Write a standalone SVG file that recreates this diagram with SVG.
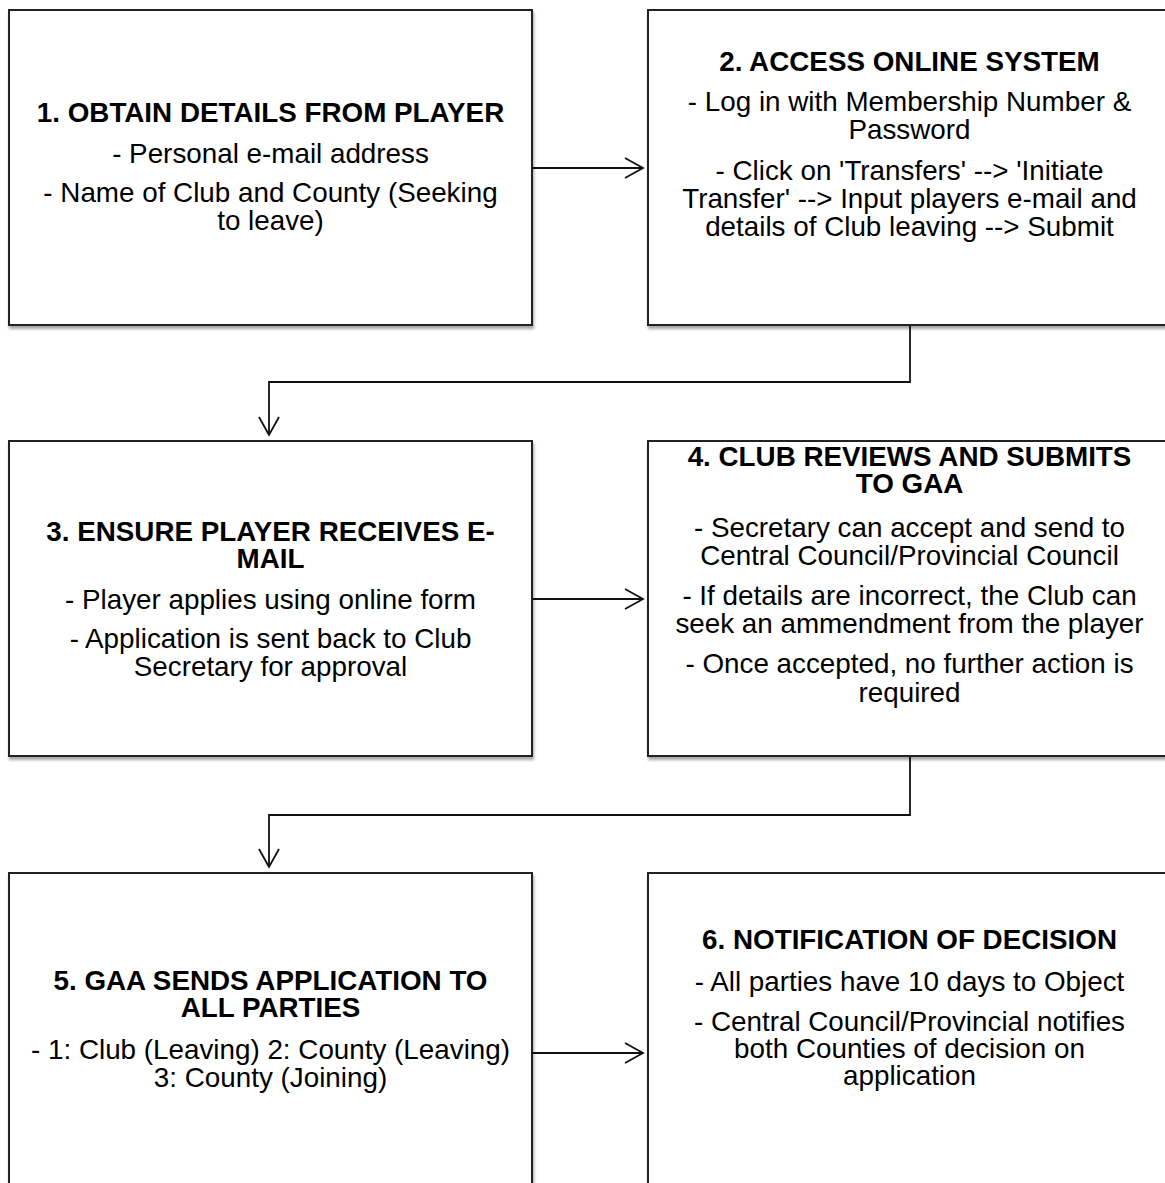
<svg xmlns="http://www.w3.org/2000/svg" width="1165" height="1183" viewBox="0 0 1165 1183">
<style>
.box{fill:#fff;stroke:#222;stroke-width:2;filter:url(#sh)}
.t{font-family:"Liberation Sans",Arial,sans-serif;font-size:27.8px;fill:#000;text-anchor:middle}
.b{font-weight:bold}
.c{fill:none;stroke:#111;stroke-width:1.8}
</style>
<defs>
<filter id="sh" x="-5%" y="-5%" width="110%" height="115%">
<feDropShadow dx="1" dy="3" stdDeviation="1.6" flood-color="#000" flood-opacity="0.35"/>
</filter>
<marker id="arr" markerUnits="userSpaceOnUse" markerWidth="26" markerHeight="26" viewBox="-21 -13 26 26" refX="0" refY="0" orient="auto">
<path d="M-18,-10 L0,0 L-18,10" fill="none" stroke="#111" stroke-width="1.8"/>
</marker>
</defs>
<rect width="1165" height="1183" fill="#fff"/>
<g id="connectors">
<path class="c" d="M532,168 H643" marker-end="url(#arr)"/>
<path class="c" d="M910,325 V382 H269 V435" marker-end="url(#arr)"/>
<path class="c" d="M532,599 H643" marker-end="url(#arr)"/>
<path class="c" d="M910,756 V815 H269 V867" marker-end="url(#arr)"/>
<path class="c" d="M532,1053 H643" marker-end="url(#arr)"/>
</g>
<g id="node1">
<rect class="box" x="9" y="10" width="523" height="315"/>
<text class="t b" x="270.5" y="122">1. OBTAIN DETAILS FROM PLAYER</text>
<text class="t" x="270.5" y="163">- Personal e-mail address</text>
<text class="t" x="270.5" y="202">- Name of Club and County (Seeking</text>
<text class="t" x="270.5" y="230">to leave)</text>
</g>
<g id="node2">
<rect class="box" x="648" y="10" width="523" height="315"/>
<text class="t b" x="909.5" y="71">2. ACCESS ONLINE SYSTEM</text>
<text class="t" x="909.5" y="111">- Log in with Membership Number &amp;</text>
<text class="t" x="909.5" y="139">Password</text>
<text class="t" x="909.5" y="180">- Click on 'Transfers' --&gt; 'Initiate</text>
<text class="t" x="909.5" y="208">Transfer' --&gt; Input players e-mail and</text>
<text class="t" x="909.5" y="236">details of Club leaving --&gt; Submit</text>
</g>
<g id="node3">
<rect class="box" x="9" y="441" width="523" height="315"/>
<text class="t b" x="270.5" y="541">3. ENSURE PLAYER RECEIVES E-</text>
<text class="t b" x="270.5" y="568">MAIL</text>
<text class="t" x="270.5" y="609">- Player applies using online form</text>
<text class="t" x="270.5" y="648">- Application is sent back to Club</text>
<text class="t" x="270.5" y="676">Secretary for approval</text>
</g>
<g id="node4">
<rect class="box" x="648" y="441" width="523" height="315"/>
<text class="t b" x="909.5" y="466">4. CLUB REVIEWS AND SUBMITS</text>
<text class="t b" x="909.5" y="493">TO GAA</text>
<text class="t" x="909.5" y="537">- Secretary can accept and send to</text>
<text class="t" x="909.5" y="565">Central Council/Provincial Council</text>
<text class="t" x="909.5" y="605">- If details are incorrect, the Club can</text>
<text class="t" x="909.5" y="633">seek an ammendment from the player</text>
<text class="t" x="909.5" y="673">- Once accepted, no further action is</text>
<text class="t" x="909.5" y="702">required</text>
</g>
<g id="node5">
<rect class="box" x="9" y="873" width="523" height="360"/>
<text class="t b" x="270.5" y="990">5. GAA SENDS APPLICATION TO</text>
<text class="t b" x="270.5" y="1017">ALL PARTIES</text>
<text class="t" x="270.5" y="1059">- 1: Club (Leaving) 2: County (Leaving)</text>
<text class="t" x="270.5" y="1087">3: County (Joining)</text>
</g>
<g id="node6">
<rect class="box" x="648" y="873" width="523" height="360"/>
<text class="t b" x="909.5" y="949">6. NOTIFICATION OF DECISION</text>
<text class="t" x="909.5" y="991">- All parties have 10 days to Object</text>
<text class="t" x="909.5" y="1031">- Central Council/Provincial notifies</text>
<text class="t" x="909.5" y="1058">both Counties of decision on</text>
<text class="t" x="909.5" y="1085">application</text>
</g>
</svg>
